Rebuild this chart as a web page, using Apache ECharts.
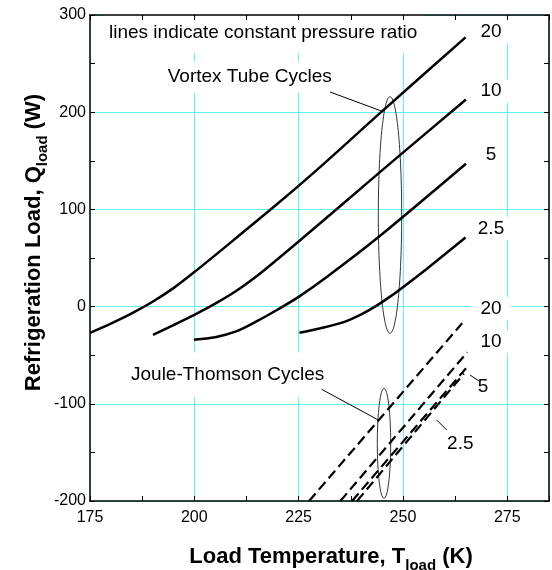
<!DOCTYPE html>
<html>
<head>
<meta charset="utf-8">
<script src="https://cdn.jsdelivr.net/npm/echarts@6/dist/echarts.min.js"></script>
<style>
  html, body { margin: 0; padding: 0; background: #fff; }
  #chart { width: 552px; height: 570px; }
</style>
</head>
<body>
<div id="chart"></div>
<script>
// Vortex tube cycles (solid), [T load (K), Q load (W)], one per pressure ratio
const vt20 = [[175, -27], [180, -17.5], [185, -7], [190, 5], [195, 19], [200, 35.5], [210, 70.5], [220, 106], [230, 143], [244.5, 199], [265, 277]];
const vt10 = [[190.1, -29], [195, -19], [200, -8.5], [205, 3], [210, 16], [215, 31.5], [220, 49], [225, 67], [235, 103.5], [248.5, 153], [265.1, 213]];
const vt5 = [[199.9, -34], [205, -31.5], [210, -25.5], [215, -15], [220, -3], [225, 10], [231.9, 31], [243.7, 70], [265.1, 147]];
const vt2_5 = [[225.2, -27], [230, -22.5], [235.8, -16], [240, -8], [243.7, 1], [247, 10.5], [250, 20], [255.6, 38.5], [265, 71]];

// Joule-Thomson cycles (dashed)
const jt20 = [[227.5, -200], [264.2, -17]];
const jt10 = [[235, -200], [265.4, -47]];
const jt5 = [[237.8, -200], [265.2, -63]];
const jt2_5 = [[239, -200], [264.6, -69]];

const xTicks = { min: 175, max: 285 };
const yTicks = { min: -200, max: 300 };

const FONT = 'Liberation Sans, Arial, sans-serif';
const GRID_COLOR = '#66f2f2';

const myChart = echarts.init(document.getElementById('chart'));

function solid(name, data) {
  return {
    name: name,
    type: 'line',
    data: data,
    smooth: 0.3,
    showSymbol: false,
    lineStyle: { color: '#000', width: 2.5 },
    z: 3,
  };
}

function dashed(name, data) {
  return {
    name: name,
    type: 'line',
    data: data,
    showSymbol: false,
    lineStyle: { color: '#000', width: 2.2, type: [10, 5] },
    z: 3,
  };
}

// ticks + labels axis, grid-line-only axis, and mirrored axis
function tickAxis(pos, range, step, labelFn) {
  return {
    type: 'value',
    position: pos,
    min: range.min,
    max: range.max,
    interval: step,
    z: 4,
    axisLine: { show: true, onZero: false, lineStyle: { color: '#000', width: 1.5 } },
    axisTick: { show: true, inside: true, length: 5, lineStyle: { color: '#000', width: 1 } },
    axisLabel: labelFn
      ? { show: true, formatter: labelFn, color: '#000', fontSize: 16, fontFamily: FONT, margin: pos === 'bottom' ? 9 : 4 }
      : { show: false },
    splitLine: { show: false },
  };
}

function gridAxis(pos, range, step) {
  return {
    type: 'value',
    position: pos,
    min: range.min,
    max: range.max,
    interval: step,
    z: 0,
    axisLine: { show: false, onZero: false },
    axisTick: { show: false },
    axisLabel: { show: false },
    splitLine: { show: true, lineStyle: { color: GRID_COLOR, width: 1 } },
  };
}

const option = {
  animation: false,
  textStyle: { fontFamily: FONT },
  grid: { left: 90, top: 15, width: 464, height: 486 },
  xAxis: [
    tickAxis('bottom', xTicks, 12.5, v => (v % 25 === 0 ? String(v) : '')),
    gridAxis('bottom', xTicks, 25),
    tickAxis('top', xTicks, 12.5, null),
  ],
  yAxis: [
    tickAxis('left', yTicks, 50, v => (v % 100 === 0 ? String(v) : '')),
    gridAxis('left', yTicks, 100),
    tickAxis('right', yTicks, 50, null),
  ],
  series: [
    solid('20', vt20),
    solid('10', vt10),
    solid('5', vt5),
    solid('2.5', vt2_5),
    dashed('20', jt20),
    dashed('10', jt10),
    dashed('5', jt5),
    dashed('2.5', jt2_5),
  ],
};
myChart.setOption(option);

// annotations
function label(text, x, y, align, padding) {
  return {
    type: 'text',
    x: x,
    y: y,
    z: 1,
    style: {
      text: text,
      fill: '#000',
      font: '19px ' + FONT,
      align: align || 'center',
      verticalAlign: 'middle',
      backgroundColor: '#fff',
      padding: padding || [2, 8],
    },
  };
}

function leader(x1, y1, x2, y2) {
  return {
    type: 'line',
    z: 2,
    shape: { x1: x1, y1: y1, x2: x2, y2: y2 },
    style: { stroke: '#000', lineWidth: 1 },
  };
}

function ellipse(cx, cy, rx, ry) {
  return {
    type: 'ellipse',
    z: 2,
    shape: { cx: cx, cy: cy, rx: rx, ry: ry },
    style: { stroke: '#333', fill: null, lineWidth: 1 },
  };
}

const titleRich = {
  m: { fontSize: 22, fontWeight: 'bold', fontFamily: FONT, verticalAlign: 'bottom', padding: [0, 0, 5, 0] },
  s: { fontSize: 15, fontWeight: 'bold', fontFamily: FONT, verticalAlign: 'bottom' },
};

myChart.setOption({
  graphic: [
    label('lines indicate constant pressure ratio', 103, 33, 'left', [12, 6, 10, 6]),
    label('Vortex Tube Cycles', 161.7, 77, 'left', [6, 6, 6, 6]),
    label('Joule-Thomson Cycles', 125, 375, 'left', [14, 6, 12, 6]),
    leader(330, 92, 383.3, 111.7),
    leader(321.7, 389.3, 378.3, 420),
    ellipse(390, 215, 11.7, 118.3),
    ellipse(384, 443.3, 6.7, 55),

    label('20', 491, 31.7),
    label('10', 491, 91),
    label('5', 491, 155),
    label('2.5', 491, 228.3),
    label('20', 491, 308.7, 'center', [2, 9]),
    label('10', 491, 341.7),
    label('5', 485, 386.7, 'center', [2, 8, 12, 4]),
    label('2.5', 460.3, 443.3),
    leader(470, 375, 480, 381.7),
    leader(436.7, 420, 446.7, 430),

    {
      type: 'text',
      x: 331,
      y: 573,
      z: 1,
      style: {
        text: '{m|Load Temperature, T}{s|load}{m| (K)}',
        rich: titleRich,
        fill: '#000',
        align: 'center',
        verticalAlign: 'bottom',
      },
    },
    {
      type: 'text',
      x: 50,
      y: 242.5,
      rotation: Math.PI / 2,
      z: 1,
      style: {
        text: '{m|Refrigeration Load, Q}{s|load}{m| (W)}',
        rich: titleRich,
        fill: '#000',
        align: 'center',
        verticalAlign: 'bottom',
      },
    },
  ],
});
</script>
</body>
</html>
